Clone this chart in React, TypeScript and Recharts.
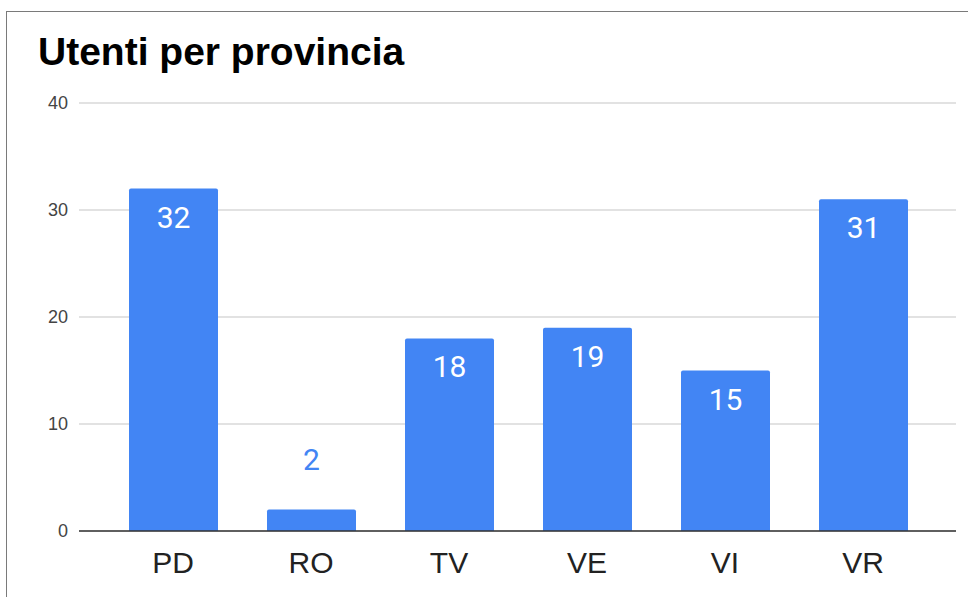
import { BarChart, Bar, XAxis, YAxis, CartesianGrid, LabelList } from "recharts";

const province = ["PD", "RO", "TV", "VE", "VI", "VR"];
const utenti = [32, 2, 18, 19, 15, 31];
const yTicks = [0, 10, 20, 30, 40];

const data = province.map((p, i) => ({ provincia: p, utenti: utenti[i] }));

const BLUE = "#4285f4";

const renderLabel = (props: any) => {
  const { x, y, width, height, value } = props;
  const inside = height > 50;
  return (
    <text
      x={x + width / 2}
      y={inside ? y + 39 : y - 40}
      fill={inside ? "#ffffff" : BLUE}
      textAnchor="middle"
      fontSize={30}
      fontFamily="Roboto"
    >
      {value}
    </text>
  );
};

export default function App() {
  return (
    <div style={{ position: "absolute", left: 0, top: 0, width: 968, height: 597, overflow: "hidden", background: "#fff" }}>
      <div
        style={{
          position: "absolute",
          left: 6,
          top: 11,
          width: 1000,
          height: 700,
          border: "1.5px solid #7a7a7a",
        }}
      />
      <div
        style={{
          position: "absolute",
          left: 38,
          top: 30,
          fontFamily: "'Liberation Sans', Arial, sans-serif",
          fontWeight: "bold",
          fontSize: 39,
          lineHeight: "normal",
          color: "#000",
          whiteSpace: "nowrap",
        }}
      >
        Utenti per provincia
      </div>
      <div style={{ position: "absolute", left: 0, top: 0 }}>
        <BarChart
          width={968}
          height={597}
          data={data}
          margin={{ top: 103, right: 12, bottom: 36, left: 0 }}
          style={{ fontFamily: "'Liberation Sans', Arial, sans-serif" }}
        >
          <CartesianGrid vertical={false} stroke="#d9d9d9" strokeWidth={1.5} />
          <YAxis
            width={79}
            domain={[0, 40]}
            ticks={yTicks}
            tickLine={false}
            axisLine={false}
            tickMargin={5}
            tick={{ fill: "#444", fontSize: 18 }}
          />
          <XAxis
            dataKey="provincia"
            padding={{ left: 25, right: 24 }}
            tickLine={false}
            axisLine={{ stroke: "#333", strokeWidth: 1.5 }}
            tickMargin={15}
            tick={{ fill: "#222", fontSize: 30 }}
          />
          <Bar dataKey="utenti" fill={BLUE} barSize={89} radius={[2, 2, 0, 0]} isAnimationActive={false}>
            <LabelList dataKey="utenti" content={renderLabel} />
          </Bar>
        </BarChart>
      </div>
    </div>
  );
}
